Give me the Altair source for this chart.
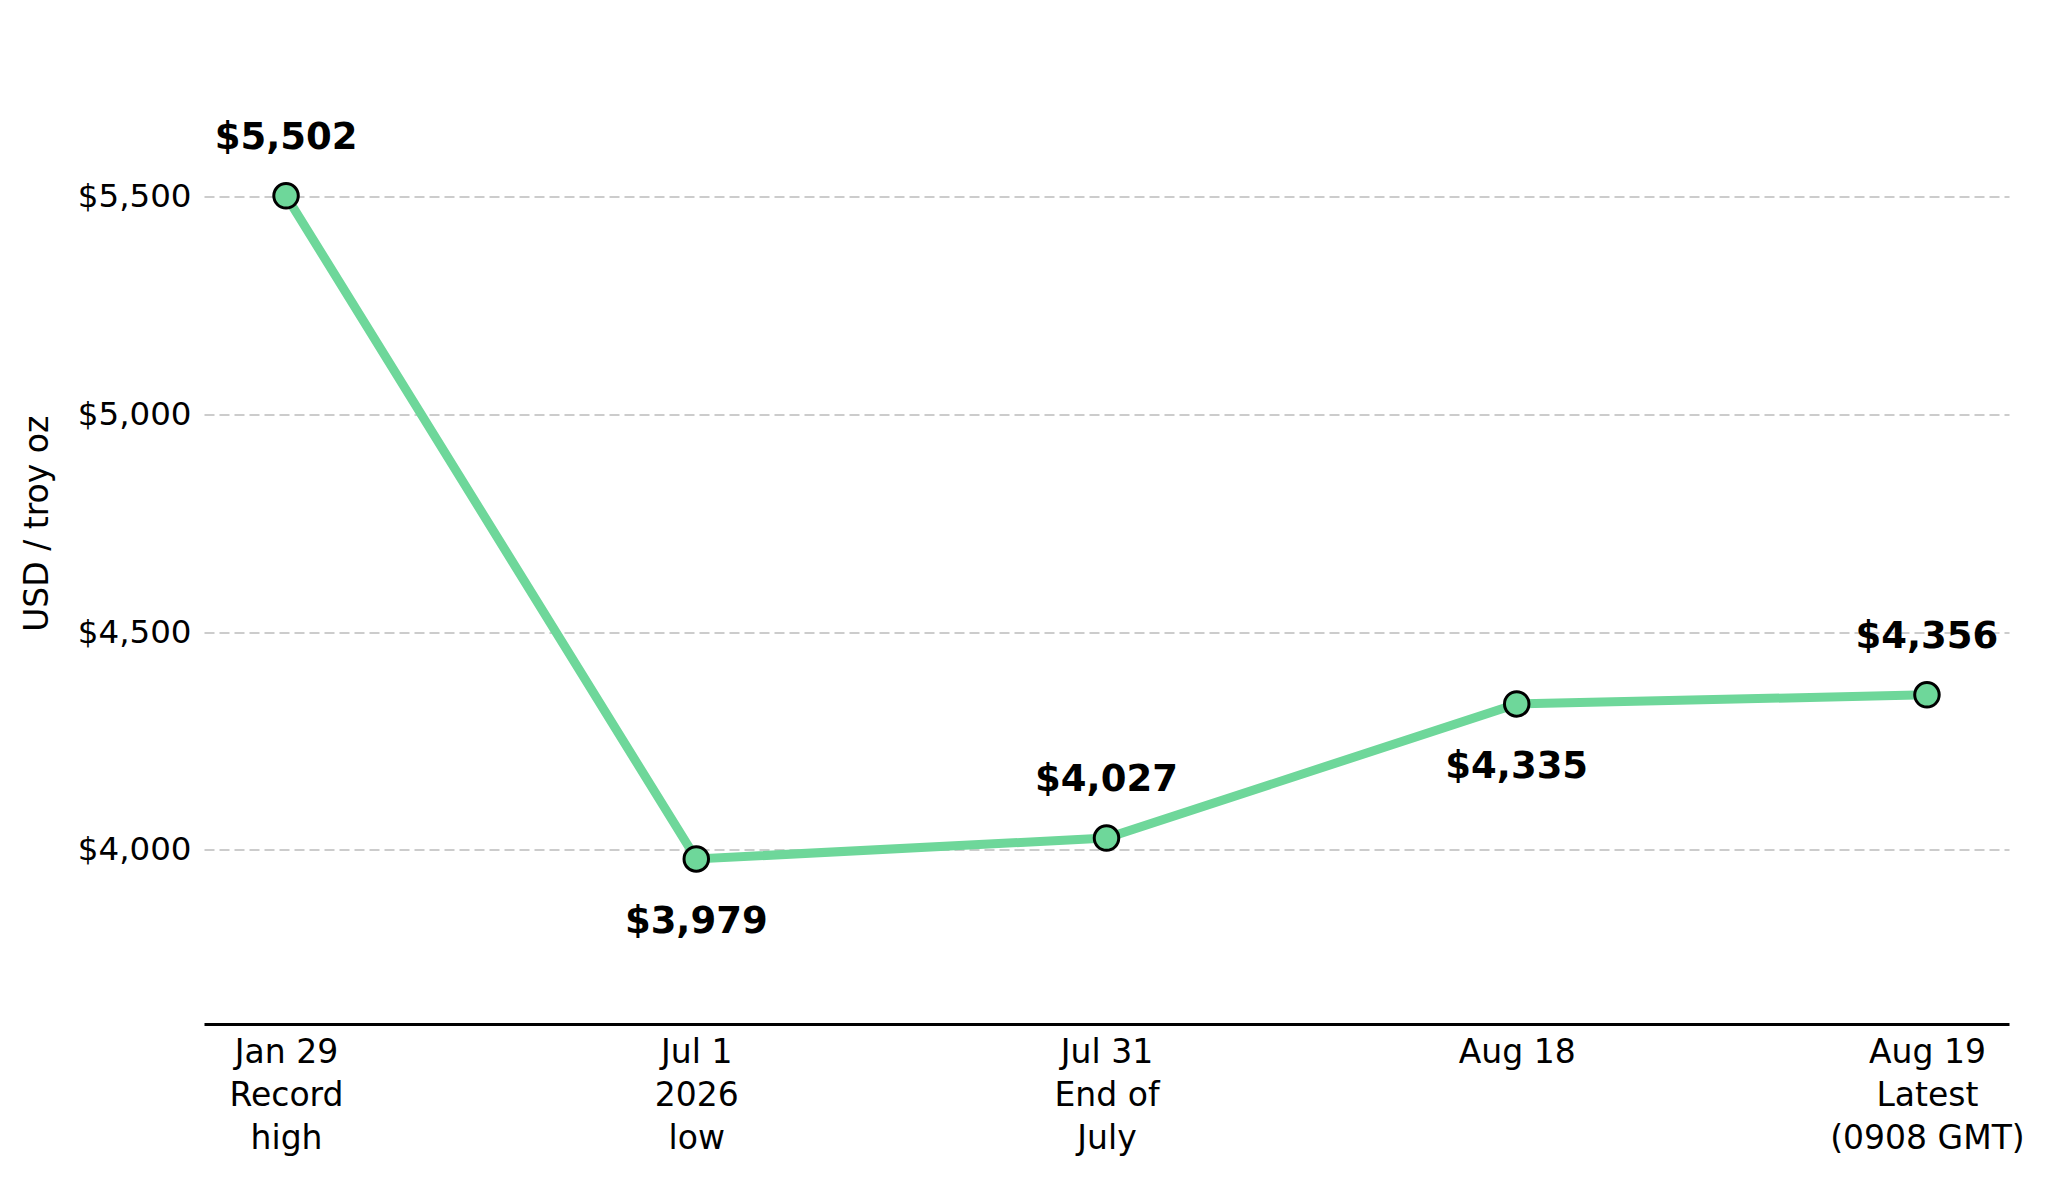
import altair as alt
import pandas as pd

dates = ["Jan 29\nRecord\nhigh", "Jul 1\n2026\nlow", "Jul 31\nEnd of\nJuly", "Aug 18", "Aug 19\nLatest\n(0908 GMT)"]
prices = [5502, 3979, 4027, 4335, 4356]
label_pos = ["above", "below", "above", "below", "above"]
y_ticks = [4000, 4500, 5000, 5500]

df = pd.DataFrame({"date": dates, "price": prices, "pos": label_pos})
df["label"] = df["price"].map(lambda v: f"${v:,}")

FONT = "DejaVu Sans"
GREEN = "#6ED79A"

x_enc = alt.X(
    "date:N",
    sort=dates,
    scale=alt.Scale(type="point", padding=0.2),
    axis=alt.Axis(
        title=None,
        labelExpr="split(datum.label, '\\n')",
        labelAngle=0,
        labelFont=FONT,
        labelFontSize=33,
        labelColor="black",
        labelLineHeight=43,
        labelBaseline="alphabetic",
        labelPadding=38,
        labelLimit=0,
        labelOverlap=False,
        ticks=False,
        grid=False,
        domain=True,
        domainColor="black",
        domainWidth=3,
    ),
)
y_enc = alt.Y(
    "price:Q",
    scale=alt.Scale(domain=[3600, 5900], nice=False, zero=False),
    axis=alt.Axis(
        values=y_ticks,
        format="$,.0f",
        title="USD / troy oz",
        titleFont=FONT,
        titleFontSize=33,
        titleFontWeight="normal",
        titleColor="black",
        titleX=-157,
        titleBaseline="alphabetic",
        labelFont=FONT,
        labelFontSize=32.5,
        labelColor="black",
        labelPadding=13,
        ticks=False,
        domain=False,
        grid=True,
        gridColor="#cccccc",
        gridDash=[10, 5],
        gridWidth=2,
    ),
)

base = alt.Chart(df)
line = base.mark_line(color=GREEN, strokeWidth=9).encode(x=x_enc, y=y_enc)
points = base.mark_point(
    filled=True, fill=GREEN, stroke="black", strokeWidth=3, size=600, opacity=1
).encode(x=alt.X("date:N", sort=dates), y="price:Q")
above = base.transform_filter(alt.datum.pos == "above").mark_text(
    font=FONT, fontSize=37, fontWeight="bold", color="black",
    baseline="alphabetic", align="center", dy=-47
).encode(x=alt.X("date:N", sort=dates), y="price:Q", text="label:N")
below = base.transform_filter(alt.datum.pos == "below").mark_text(
    font=FONT, fontSize=37, fontWeight="bold", color="black",
    baseline="alphabetic", align="center", dy=74
).encode(x=alt.X("date:N", sort=dates), y="price:Q", text="label:N")

chart = (
    alt.layer(line, points, above, below)
    .properties(
        width=1805,
        height=1001.5,
        padding={"left": 196, "top": 14.5, "right": 31, "bottom": 140},
        autosize=alt.AutoSizeParams(type="none"),
        background="white",
    )
    .configure_view(strokeWidth=0)
)

chart.save("out.html", embed_options={"renderer": "svg", "actions": False})
